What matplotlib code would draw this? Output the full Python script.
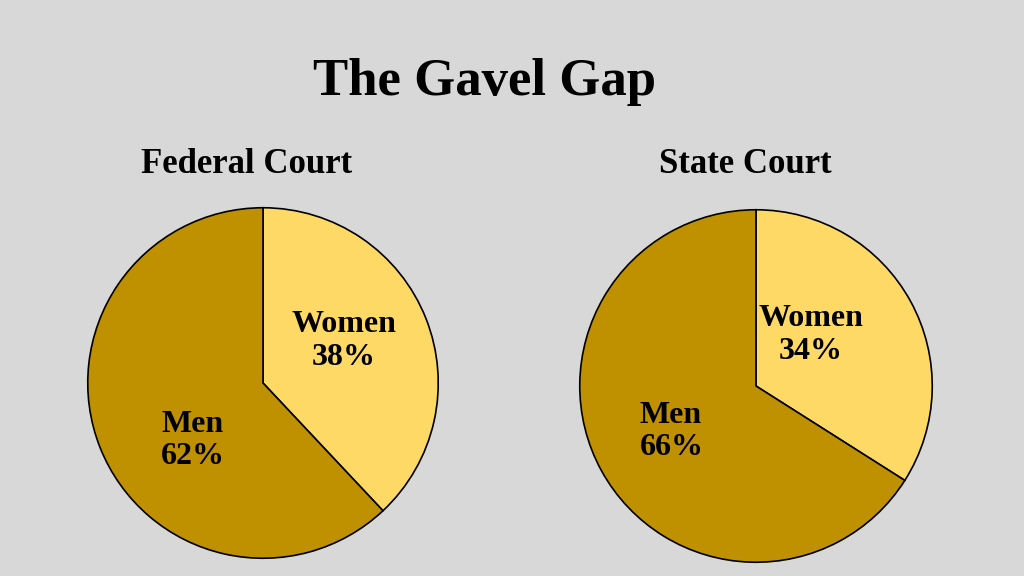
import matplotlib
matplotlib.use("Agg")
import matplotlib.pyplot as plt

title = "The Gavel Gap"
courts = ["Federal Court", "State Court"]
categories = ["Women", "Men"]
women_pct = [38, 34]
men_pct = [62, 66]
colors = ["#FFD966", "#BF9000"]

font = "Liberation Serif"
fig = plt.figure(figsize=(10.24, 5.76), dpi=100, facecolor="#D8D8D8")
fig.text(0.473, 0.857, title, ha="center", va="center", fontsize=38, fontweight="bold", family=font)

centers = [(263, 383, 177), (756, 386, 178)]
women_pos = [(0.46, 0.24), (0.31, 0.29)]
men_pos = [(-0.58, -0.33), (-0.66, -0.26)]
sub_x = [247, 745]
for i, (cx, cy, r) in enumerate(centers):
    ax = fig.add_axes([(cx - r) / 1024, 1 - (cy + r) / 576, 2 * r / 1024, 2 * r / 576])
    ax.pie([women_pct[i], men_pct[i]], colors=colors, startangle=90, counterclock=False,
           wedgeprops=dict(edgecolor="black", linewidth=1.2), radius=1)
    ax.set_xlim(-1.01, 1.01); ax.set_ylim(-1.01, 1.01); ax.axis("off")
    ax.text(*women_pos[i], f"{categories[0]}\n{women_pct[i]}%", ha="center", va="center",
            fontsize=23, fontweight="bold", family=font, linespacing=1.15)
    ax.text(*men_pos[i], f"{categories[1]}\n{men_pct[i]}%", ha="left", va="center",
            fontsize=23, fontweight="bold", family=font, linespacing=1.15)
    fig.text(sub_x[i] / 1024, 1 - 165 / 576, courts[i], ha="center", va="center",
             fontsize=25, fontweight="bold", family=font)

fig.savefig("out.png", dpi=100, facecolor=fig.get_facecolor())
